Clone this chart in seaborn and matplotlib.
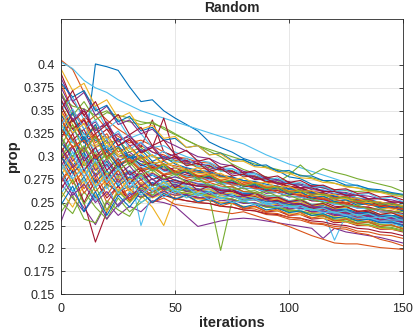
import matplotlib
matplotlib.use('Agg')
import matplotlib.pyplot as plt
import pandas as pd
import seaborn as sns

# iterations sampled every 5 steps
iterations = list(range(0, 151, 5))

# proportion per run, in thousandths
runs = [
    [330, 318, 300, 401, 398, 394, 376, 360, 362, 350, 342, 335, 328, 316, 310, 305, 298, 294, 288, 285, 278, 276, 270, 268, 262, 260, 255, 253, 249, 247, 244],
    [405, 395, 370, 352, 340, 330, 322, 312, 305, 302, 296, 294, 288, 286, 280, 278, 272, 271, 266, 264, 260, 259, 255, 253, 250, 248, 245, 244, 240, 239, 236],
    [300, 285, 310, 290, 295, 280, 285, 278, 283, 275, 272, 274, 268, 269, 262, 264, 258, 257, 252, 254, 248, 249, 243, 245, 240, 239, 235, 236, 231, 231, 228],
    [230, 262, 244, 226, 250, 236, 246, 240, 252, 250, 246, 235, 224, 227, 230, 232, 233, 232, 230, 228, 226, 224, 222, 211, 222, 218, 216, 214, 212, 209, 206],
    [335, 320, 300, 290, 305, 292, 296, 285, 288, 280, 282, 278, 276, 270, 265, 268, 262, 263, 258, 257, 252, 254, 248, 249, 244, 245, 240, 241, 236, 236, 232],
    [403, 396, 383, 375, 370, 362, 356, 350, 346, 342, 338, 334, 330, 326, 322, 318, 314, 308, 302, 297, 292, 288, 284, 280, 276, 272, 268, 265, 262, 259, 256],
    [300, 275, 250, 207, 240, 262, 255, 268, 262, 265, 260, 258, 256, 252, 250, 251, 245, 246, 240, 241, 236, 237, 232, 233, 228, 229, 225, 225, 221, 221, 218],
    [360, 340, 325, 318, 310, 300, 302, 295, 290, 288, 284, 286, 278, 279, 272, 274, 268, 269, 264, 265, 260, 261, 256, 257, 252, 253, 249, 249, 245, 245, 242],
    [380, 350, 335, 345, 330, 322, 315, 318, 312, 305, 300, 298, 294, 293, 286, 285, 278, 279, 272, 271, 265, 266, 260, 259, 254, 255, 250, 250, 246, 246, 242],
    [280, 300, 272, 290, 268, 278, 262, 258, 245, 225, 258, 262, 260, 258, 256, 257, 252, 253, 247, 248, 243, 244, 239, 240, 235, 236, 231, 232, 228, 228, 225],
    [345, 325, 340, 310, 318, 300, 305, 295, 292, 286, 282, 283, 278, 276, 270, 271, 265, 266, 260, 261, 256, 257, 252, 253, 248, 249, 244, 245, 240, 240, 237],
    [250, 238, 262, 245, 232, 255, 240, 250, 258, 262, 265, 263, 260, 257, 255, 254, 250, 249, 245, 244, 240, 240, 236, 236, 232, 232, 228, 228, 224, 223, 220],
    [320, 305, 290, 300, 282, 270, 285, 225, 262, 270, 272, 270, 268, 265, 262, 262, 257, 258, 252, 253, 247, 246, 242, 240, 209, 236, 234, 234, 230, 230, 226],
    [390, 360, 345, 330, 335, 318, 322, 310, 340, 305, 300, 295, 292, 290, 285, 284, 279, 278, 273, 272, 267, 266, 261, 260, 256, 255, 250, 250, 246, 245, 241],
    [310, 290, 305, 280, 295, 278, 284, 275, 280, 272, 275, 270, 268, 268, 263, 264, 260, 260, 256, 255, 251, 251, 247, 247, 243, 243, 239, 239, 236, 235, 233],
    [295, 270, 285, 262, 275, 258, 265, 255, 262, 258, 254, 252, 250, 249, 246, 245, 242, 241, 237, 236, 232, 231, 227, 226, 222, 221, 217, 215, 210, 207, 203],
    [355, 335, 320, 310, 315, 300, 298, 292, 295, 288, 285, 284, 280, 279, 275, 274, 270, 270, 265, 265, 260, 260, 256, 256, 252, 252, 248, 248, 244, 243, 240],
    [270, 255, 240, 258, 232, 248, 260, 256, 262, 266, 268, 265, 262, 262, 258, 258, 253, 253, 249, 249, 244, 244, 240, 240, 236, 236, 232, 232, 229, 228, 226],
    [365, 355, 352, 345, 350, 340, 338, 335, 338, 330, 324, 318, 312, 306, 300, 292, 286, 282, 278, 275, 272, 270, 268, 266, 264, 263, 262, 263, 262, 260, 258],
    [300, 320, 298, 310, 290, 295, 283, 288, 280, 276, 278, 274, 271, 270, 266, 266, 261, 261, 257, 257, 252, 252, 248, 248, 244, 244, 240, 240, 236, 236, 233],
    [340, 318, 330, 300, 312, 295, 302, 290, 294, 285, 288, 282, 279, 278, 273, 272, 268, 268, 263, 263, 259, 258, 254, 254, 250, 250, 246, 245, 242, 241, 238],
    [285, 262, 278, 255, 270, 262, 268, 265, 270, 266, 268, 266, 264, 262, 260, 258, 256, 255, 253, 252, 250, 248, 246, 245, 243, 242, 240, 239, 237, 236, 235],
    [330, 310, 320, 298, 305, 290, 296, 284, 288, 280, 282, 276, 273, 272, 268, 267, 262, 261, 256, 255, 250, 249, 244, 243, 238, 237, 232, 231, 226, 225, 222],
    [315, 298, 282, 292, 275, 285, 272, 278, 268, 272, 270, 267, 265, 264, 260, 260, 256, 255, 252, 251, 248, 247, 244, 243, 240, 239, 236, 235, 232, 231, 229],
    [375, 350, 330, 338, 320, 325, 312, 315, 305, 300, 298, 295, 292, 290, 285, 284, 280, 279, 276, 274, 272, 270, 268, 266, 262, 261, 258, 257, 254, 253, 250],
    [325, 340, 320, 332, 315, 318, 305, 310, 300, 298, 295, 292, 290, 288, 285, 283, 280, 278, 276, 272, 280, 291, 280, 287, 283, 280, 276, 273, 270, 267, 262],
    [260, 280, 300, 270, 290, 275, 282, 270, 276, 268, 272, 268, 265, 264, 261, 260, 256, 255, 252, 251, 247, 246, 242, 241, 238, 236, 233, 232, 228, 227, 224],
    [320, 342, 315, 325, 300, 310, 292, 300, 288, 292, 284, 280, 278, 277, 273, 272, 268, 267, 262, 261, 257, 256, 252, 251, 246, 245, 241, 240, 235, 234, 230],
    [345, 330, 315, 322, 305, 312, 298, 302, 292, 295, 288, 285, 283, 282, 278, 277, 274, 272, 268, 267, 264, 263, 260, 259, 256, 255, 252, 251, 248, 248, 245],
    [275, 290, 260, 278, 250, 268, 255, 262, 250, 255, 248, 246, 244, 242, 240, 238, 240, 236, 232, 228, 224, 219, 214, 210, 206, 205, 205, 203, 201, 200, 199],
    [305, 285, 270, 288, 265, 280, 262, 272, 265, 268, 262, 260, 258, 257, 254, 253, 250, 249, 246, 245, 242, 241, 238, 237, 234, 233, 230, 229, 226, 225, 222],
    [290, 310, 285, 300, 278, 290, 275, 282, 270, 276, 272, 270, 268, 267, 263, 262, 258, 257, 254, 253, 250, 249, 246, 245, 242, 241, 238, 237, 234, 233, 231],
    [240, 258, 232, 228, 252, 242, 235, 255, 262, 265, 262, 260, 258, 256, 198, 252, 250, 249, 246, 245, 242, 241, 238, 237, 234, 233, 230, 229, 226, 225, 222],
    [350, 365, 340, 355, 330, 340, 320, 325, 310, 312, 305, 300, 296, 294, 288, 287, 282, 281, 276, 275, 270, 269, 265, 264, 260, 259, 255, 254, 250, 249, 246],
    [265, 285, 250, 275, 255, 268, 252, 262, 250, 258, 255, 252, 250, 249, 246, 245, 242, 241, 238, 237, 234, 233, 230, 229, 226, 225, 222, 221, 218, 217, 214],
    [300, 282, 295, 272, 285, 268, 278, 262, 272, 266, 270, 265, 262, 261, 258, 257, 255, 254, 251, 251, 248, 247, 244, 244, 241, 241, 238, 238, 235, 235, 233],
    [350, 330, 342, 315, 325, 305, 312, 298, 302, 292, 290, 287, 284, 283, 278, 277, 273, 272, 267, 266, 262, 261, 256, 255, 250, 249, 245, 244, 240, 239, 236],
    [330, 348, 320, 335, 310, 318, 300, 305, 292, 296, 288, 285, 282, 281, 277, 276, 273, 272, 268, 267, 263, 262, 259, 258, 255, 254, 251, 250, 247, 246, 243],
    [320, 295, 310, 285, 298, 280, 290, 275, 282, 275, 278, 274, 270, 269, 264, 264, 259, 258, 254, 253, 250, 249, 245, 244, 241, 240, 237, 236, 233, 232, 230],
    [370, 345, 360, 340, 348, 345, 342, 338, 336, 332, 325, 318, 312, 308, 304, 300, 296, 292, 289, 286, 283, 280, 277, 274, 271, 268, 266, 264, 262, 260, 258],
    [280, 262, 275, 252, 268, 245, 262, 250, 258, 262, 266, 264, 262, 261, 258, 257, 254, 253, 250, 249, 246, 245, 242, 241, 238, 237, 234, 233, 230, 230, 228],
    [355, 330, 340, 320, 330, 312, 318, 305, 310, 342, 300, 296, 292, 290, 286, 284, 280, 278, 274, 272, 268, 266, 262, 261, 257, 256, 252, 251, 247, 246, 243],
    [325, 348, 318, 335, 305, 320, 298, 308, 295, 300, 292, 288, 285, 284, 279, 278, 274, 273, 270, 268, 265, 264, 261, 260, 257, 256, 253, 253, 250, 249, 247],
    [310, 292, 278, 295, 270, 285, 265, 275, 262, 268, 262, 258, 255, 254, 250, 249, 244, 243, 239, 238, 234, 233, 228, 227, 224, 223, 219, 218, 215, 214, 211],
    [262, 245, 270, 258, 240, 265, 250, 262, 255, 260, 258, 256, 254, 253, 250, 249, 246, 245, 242, 241, 238, 237, 234, 233, 230, 229, 226, 225, 222, 221, 219],
    [385, 360, 370, 345, 355, 335, 340, 325, 330, 318, 312, 306, 300, 298, 292, 290, 284, 282, 276, 275, 270, 269, 264, 263, 259, 258, 254, 253, 249, 248, 245],
    [300, 318, 290, 305, 280, 292, 272, 280, 268, 272, 265, 262, 260, 259, 255, 254, 250, 249, 245, 244, 241, 240, 236, 235, 231, 230, 227, 226, 223, 222, 219],
    [335, 315, 325, 305, 312, 295, 300, 288, 292, 284, 282, 279, 276, 275, 271, 270, 266, 265, 262, 261, 257, 256, 253, 252, 248, 247, 244, 243, 240, 239, 237],
    [305, 325, 295, 310, 285, 298, 280, 288, 275, 280, 274, 271, 268, 267, 263, 262, 258, 257, 253, 252, 249, 248, 244, 243, 240, 239, 236, 235, 232, 231, 229],
    [315, 300, 322, 296, 308, 288, 300, 292, 285, 290, 280, 284, 276, 279, 272, 274, 268, 270, 264, 266, 259, 262, 255, 257, 251, 253, 247, 249, 244, 246, 241],
    [342, 318, 305, 325, 298, 310, 294, 300, 286, 292, 282, 286, 279, 281, 274, 277, 270, 272, 266, 268, 262, 264, 259, 260, 255, 257, 252, 253, 249, 250, 246],
    [290, 272, 295, 268, 282, 262, 276, 270, 264, 272, 266, 268, 262, 265, 258, 261, 255, 258, 252, 254, 249, 251, 246, 248, 243, 245, 240, 242, 237, 239, 235],
    [368, 340, 352, 328, 338, 316, 324, 306, 312, 298, 303, 292, 296, 286, 289, 281, 283, 276, 278, 271, 273, 266, 268, 262, 263, 258, 259, 254, 255, 250, 251],
    [255, 275, 248, 268, 242, 262, 250, 266, 258, 268, 262, 264, 258, 261, 255, 257, 252, 254, 248, 250, 246, 247, 242, 244, 239, 241, 236, 238, 233, 235, 231],
    [335, 352, 330, 340, 318, 328, 308, 316, 300, 306, 294, 298, 289, 292, 284, 287, 279, 282, 274, 277, 270, 272, 266, 268, 262, 264, 258, 260, 254, 256, 251],
    [298, 312, 285, 302, 276, 294, 270, 286, 268, 280, 266, 274, 263, 268, 260, 264, 257, 260, 254, 256, 251, 253, 247, 249, 244, 246, 240, 242, 237, 239, 234],
    [380, 365, 372, 350, 356, 338, 344, 328, 332, 318, 320, 310, 312, 302, 304, 296, 297, 290, 291, 284, 285, 279, 279, 274, 274, 269, 269, 265, 264, 261, 259],
    [272, 290, 265, 282, 258, 276, 252, 270, 256, 264, 253, 258, 250, 254, 246, 250, 243, 246, 240, 243, 236, 239, 233, 236, 230, 232, 227, 229, 224, 226, 221],
    [348, 326, 336, 312, 322, 302, 310, 296, 302, 290, 294, 284, 288, 280, 282, 275, 277, 271, 272, 266, 268, 262, 263, 258, 259, 254, 255, 250, 251, 247, 247],
    [308, 288, 300, 278, 292, 272, 284, 268, 276, 264, 270, 262, 265, 259, 261, 256, 257, 253, 253, 249, 250, 246, 246, 243, 242, 239, 239, 236, 235, 233, 232],
    [322, 300, 312, 292, 302, 285, 294, 280, 286, 276, 281, 272, 276, 268, 271, 264, 266, 260, 262, 257, 258, 253, 254, 250, 250, 246, 247, 243, 243, 240, 240],
    [285, 305, 278, 296, 272, 288, 266, 280, 262, 274, 260, 268, 257, 262, 254, 258, 251, 254, 248, 250, 245, 247, 242, 244, 239, 241, 236, 238, 233, 235, 230],
    [362, 338, 350, 325, 335, 312, 320, 304, 310, 296, 300, 290, 293, 284, 287, 279, 281, 275, 276, 270, 271, 266, 266, 262, 262, 258, 258, 254, 254, 251, 250],
    [248, 268, 240, 262, 236, 258, 245, 262, 250, 260, 254, 258, 251, 254, 248, 251, 245, 248, 242, 244, 239, 241, 236, 238, 233, 235, 230, 232, 228, 229, 225],
    [330, 310, 318, 298, 308, 292, 298, 286, 290, 281, 284, 277, 279, 273, 274, 269, 270, 265, 266, 261, 262, 257, 258, 254, 254, 250, 251, 247, 247, 244, 243],
    [395, 372, 380, 355, 362, 342, 348, 330, 334, 320, 322, 310, 312, 302, 303, 295, 295, 289, 288, 283, 282, 277, 276, 272, 271, 267, 266, 262, 261, 258, 256],
    [278, 258, 270, 250, 262, 246, 258, 264, 256, 262, 258, 259, 255, 256, 252, 253, 249, 250, 246, 247, 243, 244, 240, 241, 237, 238, 234, 235, 231, 232, 228],
    [312, 335, 305, 322, 296, 310, 290, 300, 284, 292, 280, 286, 276, 280, 272, 275, 268, 271, 265, 267, 261, 263, 258, 259, 254, 256, 251, 252, 248, 249, 245],
    [292, 276, 288, 266, 280, 260, 274, 258, 268, 256, 264, 255, 260, 253, 256, 250, 252, 248, 249, 245, 246, 242, 243, 239, 240, 236, 237, 233, 234, 231, 231],
    [352, 372, 345, 360, 335, 346, 324, 332, 312, 318, 302, 307, 295, 298, 288, 291, 282, 285, 277, 279, 272, 274, 268, 269, 264, 265, 260, 261, 256, 257, 253],
]

yticks = [0.15, 0.175, 0.2, 0.225, 0.25, 0.275, 0.3, 0.325, 0.35, 0.375, 0.4]
ytick_labels = ['0.15', '0.175', '0.2', '0.225', '0.25', '0.275', '0.3', '0.325', '0.35', '0.375', '0.4']
xticks = [0, 50, 100, 150]

# matlab default colour order
matlab_colors = ['#0072BD', '#D95319', '#EDB120', '#7E2F8E', '#77AC30', '#4DBEEE', '#A2142F']

rows = []
for r, vals in enumerate(runs):
    for it, v in zip(iterations, vals):
        rows.append({'run': r, 'iterations': it, 'prop': v / 1000})
df = pd.DataFrame(rows)

sns.set_style('ticks')
plt.rcParams['font.family'] = ['Liberation Sans', 'DejaVu Sans']

fig = plt.figure(figsize=(4.14, 3.33), dpi=100)
ax = fig.add_axes([0.148, 0.116, 0.825, 0.827])

palette = [matlab_colors[i % 7] for i in range(len(runs))]
sns.lineplot(data=df, x='iterations', y='prop', hue='run', palette=palette,
             legend=False, linewidth=0.8, ax=ax)

ax.set_xlim(0, 150)
ax.set_ylim(0.15, 0.45)
ax.set_xticks(xticks)
ax.set_yticks(yticks)
ax.set_yticklabels(ytick_labels)
ax.grid(True, color='#e3e3e3', linewidth=0.6)
ax.set_axisbelow(True)
for s in ax.spines.values():
    s.set_color('#262626')
    s.set_linewidth(0.6)
    s.set_visible(True)
ax.tick_params(direction='in', length=3, width=0.6, colors='#262626',
               labelsize=9, top=True, right=True, pad=4.5)
ax.tick_params(axis='x', pad=6)

ax.set_title('Random', fontsize=10, fontweight='bold', pad=5)
ax.set_xlabel('iterations', fontsize=10.5, fontweight='bold', labelpad=1)
ax.set_ylabel('prop', fontsize=10.5, fontweight='bold', labelpad=3)

plt.savefig('out.png', dpi=100)
